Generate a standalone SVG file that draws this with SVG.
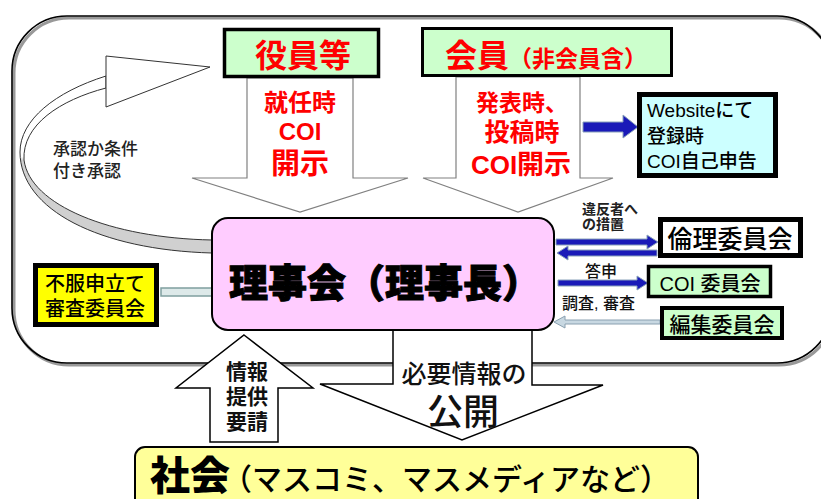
<svg xmlns="http://www.w3.org/2000/svg" width="821" height="499" viewBox="0 0 821 499">
<defs>
<linearGradient id="rib" gradientUnits="userSpaceOnUse" x1="0" y1="60" x2="0" y2="253">
<stop offset="0" stop-color="#ffffff"/><stop offset="0.5" stop-color="#ffffff"/><stop offset="0.52" stop-color="#d0d0d0"/><stop offset="1" stop-color="#d0d0d0"/>
</linearGradient>
<style>
text{font-family:"Liberation Sans","Noto Sans CJK JP",sans-serif;}
.red{fill:#ff0000;font-weight:bold;}
.blk{fill:#000;}
.big-arrow{fill:#fff;stroke:#808080;stroke-width:1.2;}
.bk-arrow{fill:#fff;stroke:#000;stroke-width:1.5;}
.blue{fill:#1a1ab8;stroke:#8aa2ba;stroke-width:1;}
.pale{fill:#c8d8e2;stroke:#8aa0b0;stroke-width:1;}
</style>
</defs>
<rect width="821" height="499" fill="#fff"/>
<!-- outer frame -->
<rect x="14" y="18" width="820" height="347" rx="55" fill="none" stroke="#999" stroke-width="3"/>
<rect x="12" y="16" width="820" height="347" rx="55" fill="none" stroke="#000" stroke-width="1.6"/>

<g id="connectors">
<!-- curved approval arrow -->
<path d="M106,76 C55,92 20,120 20,152 C20,210 100,250 212,253 L212,240 C110,238 30,205 24,160 C22,125 60,100 106,88 Z" fill="url(#rib)" stroke="#333" stroke-width="1"/>
<polygon points="106,76 106,56 210,67 106,107 106,88" fill="#fff" stroke="#333" stroke-width="1"/>
<!-- big down arrows -->
<polygon class="big-arrow" points="247,78 353,78 353,178 408,178 300,212 192,178 247,178"/>
<polygon class="big-arrow" points="456,77 580,77 580,178 613,178 518,212 423,178 456,178"/>
<!-- up arrow 情報提供要請 -->
<polygon class="bk-arrow" points="244,335 313,388 278,388 278,442 210,442 210,388 176,388"/>
<!-- down arrow 必要情報の公開 -->
<polygon class="bk-arrow" points="393,320 532,320 532,385 603,385 462,440 320,384 393,384"/>
<!-- blue arrows -->
<polygon class="blue" points="583,122 623,122 623,115 638,127 623,138 623,132 583,132"/>
<polygon class="blue" points="556,239 647,239 647,235 658,242 647,249 647,245 556,245"/>
<polygon class="blue" points="657,250 568,250 568,246 557,253 568,260 568,256 657,256"/>
<polygon class="blue" points="558,280 637,280 637,276 648,283 637,290 637,286 558,286"/>
<polygon class="pale" points="660,320 565,320 565,316 554,322 565,328 565,324 660,324"/>
<!-- 不服 connector -->
<rect x="161" y="288" width="52" height="8" fill="#dde9e9" stroke="#7f9f9f" stroke-width="1.5"/>
</g>

<g id="yakuin">
<rect x="224.5" y="29.5" width="154" height="47" fill="#ccffcc" stroke="#000" stroke-width="3.5"/>
<text x="303" y="67" font-size="32" text-anchor="middle" class="red">役員等</text>
</g>
<g id="yakuin-label">
<text x="300" y="111" font-size="24" text-anchor="middle" class="red">就任時</text>
<text x="300" y="140" font-size="24" text-anchor="middle" class="red">COI</text>
<text x="300" y="174" font-size="29" text-anchor="middle" class="red">開示</text>
</g>

<g id="kaiin">
<rect x="422.5" y="28.5" width="249" height="47" fill="#ccffcc" stroke="#000" stroke-width="3"/>
<text x="445" y="67" class="red"><tspan font-size="32">会員</tspan><tspan font-size="23">（非会員含）</tspan></text>
</g>
<g id="kaiin-label">
<text x="476" y="111" font-size="23" class="red">発表時、</text>
<text x="522" y="141" font-size="25" text-anchor="middle" class="red">投稿時</text>
<text x="521" y="174" font-size="26" text-anchor="middle" class="red">COI<tspan font-size="27">開示</tspan></text>
</g>

<g id="website">
<rect x="639.5" y="94.5" width="136" height="81" fill="#ccffff" stroke="#000" stroke-width="5"/>
<text x="647" y="117" font-size="19" font-weight="500" class="blk">Websiteにて</text>
<text x="647" y="143" font-size="19" font-weight="500" class="blk">登録時</text>
<text x="647" y="168" font-size="19" font-weight="500" class="blk">COI自己申告</text>
</g>

<g id="shonin-label">
<text x="53" y="155" font-size="17" font-weight="500" fill="#222">承認か条件</text>
<text x="53" y="177" font-size="17" font-weight="500" fill="#222">付き承認</text>
</g>

<g id="rijikai">
<rect x="212" y="218" width="342" height="112" rx="16" fill="#ffccff" stroke="#000" stroke-width="2"/>
<text x="385" y="297" font-size="39" font-weight="900" text-anchor="middle" fill="#000" stroke="#000" stroke-width="1">理事会（理事長）</text>
</g>

<g id="fufuku">
<rect x="35.5" y="265.5" width="121" height="59" fill="#ffff00" stroke="#000" stroke-width="5"/>
<text x="45" y="291" font-size="20" font-weight="500" class="blk">不服申立て</text>
<text x="45" y="316" font-size="20" font-weight="500" class="blk">審査委員会</text>
</g>

<g id="rinri">
<rect x="660.5" y="219.5" width="140" height="36" fill="#fff" stroke="#000" stroke-width="5"/>
<text x="730" y="248" font-size="25" font-weight="500" text-anchor="middle" class="blk">倫理委員会</text>
</g>
<g id="coi">
<rect x="648.5" y="266.5" width="122" height="30" fill="#ccffcc" stroke="#000" stroke-width="3.5"/>
<text x="710" y="291" font-size="20" font-weight="500" text-anchor="middle" class="blk">COI 委員会</text>
</g>
<g id="henshu">
<rect x="662" y="308" width="120" height="30" fill="#ccffcc" stroke="#000" stroke-width="4"/>
<text x="722" y="332" font-size="21" font-weight="500" text-anchor="middle" class="blk">編集委員会</text>
</g>

<g id="labels">
<text x="582" y="214" font-size="14" font-weight="bold" fill="#222">違反者へ</text>
<text x="582" y="229" font-size="14" font-weight="bold" fill="#222">の措置</text>
<text x="601" y="277" font-size="16" font-weight="500" text-anchor="middle" fill="#111">答申</text>
<text x="562" y="309" font-size="16" font-weight="500" fill="#111">調査, 審査</text>
<text x="247" y="379" font-size="21" font-weight="bold" text-anchor="middle" fill="#111">情報</text>
<text x="247" y="404" font-size="21" font-weight="bold" text-anchor="middle" fill="#111">提供</text>
<text x="247" y="429" font-size="21" font-weight="bold" text-anchor="middle" fill="#111">要請</text>
<text x="464" y="383" font-size="25" font-weight="500" text-anchor="middle" fill="#111">必要情報の</text>
<text x="463" y="425" font-size="36" font-weight="500" text-anchor="middle" fill="#111">公開</text>
</g>

<g id="shakai">
<rect x="135" y="447" width="563" height="80" rx="10" fill="#ffff99" stroke="#000" stroke-width="2"/>
<text x="150" y="490" fill="#000"><tspan font-size="40" font-weight="900">社会</tspan><tspan dx="-8" font-size="30" font-weight="500">（マスコミ、マスメディアなど）</tspan></text>
</g>
</svg>
